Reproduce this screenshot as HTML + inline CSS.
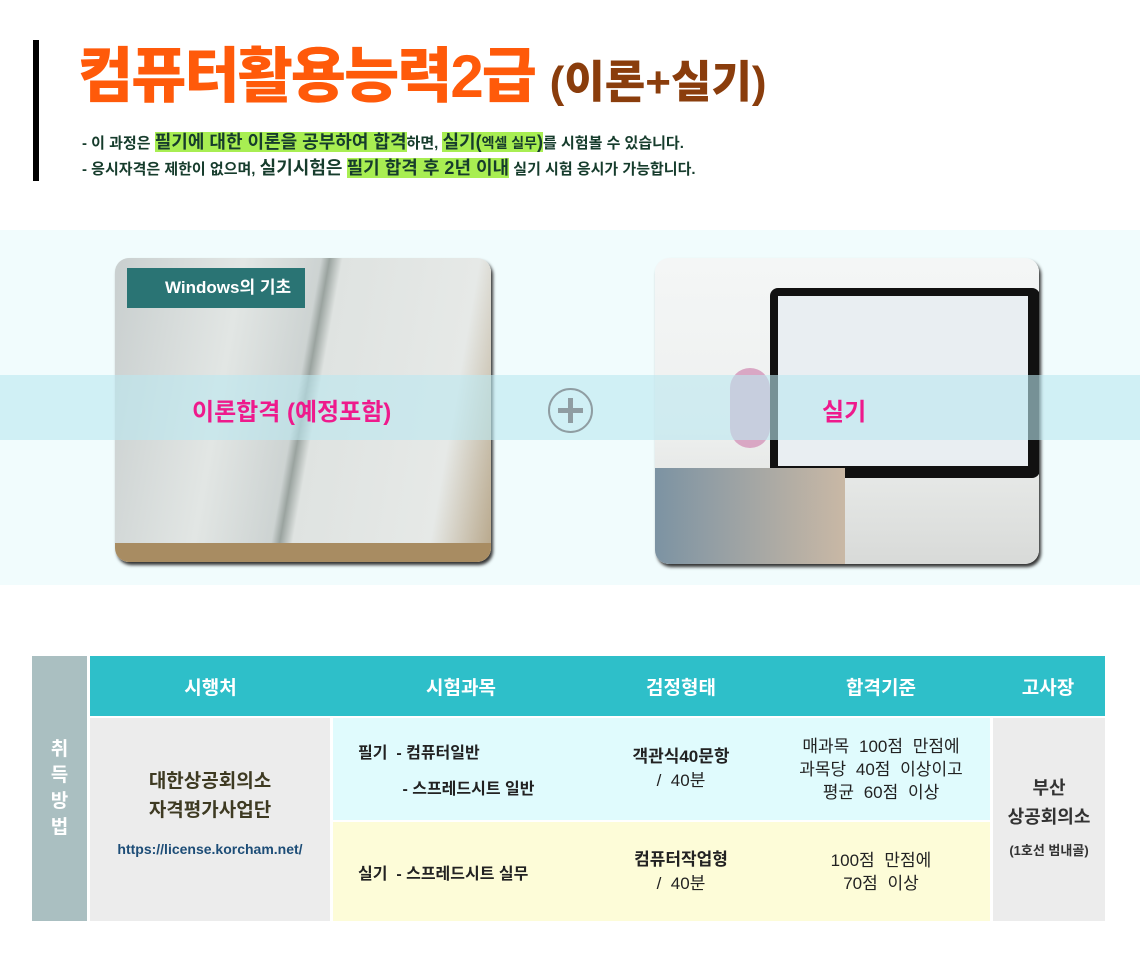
<!DOCTYPE html>
<html><head><meta charset="utf-8"><style>
*{margin:0;padding:0;box-sizing:border-box}
body{width:1140px;height:977px;background:#fff;position:relative;overflow:hidden;font-family:"Liberation Sans","Noto Sans CJK KR",sans-serif}
.a{position:absolute}
.t1{left:78px;top:28px;font-size:60px;font-weight:900;color:#ff5a0a;letter-spacing:-2px;white-space:nowrap}
.t1 span{color:#8a3d0c;font-size:44px;letter-spacing:0}
.ln{font-size:15px;font-weight:700;color:#163c2c;white-space:nowrap}
.hl{background:#a8ee52;font-size:18px}
.c{display:flex;align-items:center;justify-content:center;text-align:center;font-weight:700;position:absolute}
.h{color:#fff;font-size:19px;background:#2ebfc9;top:656px;height:60px}
</style></head><body>
<div class="a" style="left:33px;top:40px;width:6px;height:141px;background:#000"></div>
<div class="a t1">컴퓨터활용능력2급 <span>(이론+실기)</span></div>
<div class="a ln" style="left:82px;top:128px">- 이 과정은 <span class="hl">필기에 대한 이론을 공부하여 합격</span>하면, <span class="hl">실기(<span style="font-size:14px">엑셀 실무</span>)</span>를 시험볼 수 있습니다.</div>
<div class="a ln" style="left:82px;top:154px">- 응시자격은 제한이 없으며, <span style="font-size:18px">실기시험은</span> <span class="hl">필기 합격 후 2년 이내</span> 실기 시험 응시가 가능합니다.</div>

<div class="a" style="left:0;top:230px;width:1140px;height:355px;background:#f1fcfd"></div>
<div class="a" style="left:115px;top:258px;width:376px;height:304px;border-radius:14px;background:linear-gradient(100deg,#c9cfcf 0%,#e2e6e4 30%,#cdd3d2 48%,#9aa39f 50%,#dfe3e1 53%,#e6e9e7 85%,#b7a689 100%);box-shadow:2px 3px 3px #333;overflow:hidden">
 <div class="a" style="left:12px;top:10px;width:178px;height:40px;background:#2a7474"></div>
 <div class="a" style="left:50px;top:15px;color:#fff;font-size:17px;font-weight:700">Windows의 기초</div>
 <div class="a" style="left:0;top:285px;width:376px;height:20px;background:#a88c62"></div>
</div>
<div class="a" style="left:655px;top:258px;width:384px;height:306px;border-radius:14px;background:linear-gradient(180deg,#f4f6f6 0%,#eef0ef 55%,#d8dad8 100%);box-shadow:2px 3px 3px #333;overflow:hidden">
 <div class="a" style="left:115px;top:30px;width:270px;height:190px;background:#111;border-radius:8px"></div>
 <div class="a" style="left:123px;top:38px;width:250px;height:170px;background:#e9eef2"></div>
 <div class="a" style="left:0;top:210px;width:190px;height:96px;background:linear-gradient(90deg,#7c93a3,#c9b8a5)"></div>
 <div class="a" style="left:75px;top:110px;width:40px;height:80px;background:#d9a7c4;border-radius:20px"></div>
</div>
<div class="a" style="left:0;top:375px;width:1140px;height:65px;background:rgba(186,232,240,.6)"></div>
<div class="a" style="left:192px;top:392px;font-size:24px;font-weight:700;color:#ee1a8c">이론합격 (예정포함)</div>
<div class="a" style="left:822px;top:392px;font-size:24px;font-weight:700;color:#ee1a8c">실기</div>
<div class="a" style="left:548px;top:388px;width:45px;height:45px;border:2px solid #8f9da2;border-radius:50%"></div>
<div class="a" style="left:558px;top:408px;width:25px;height:5px;background:#8f9da2"></div>
<div class="a" style="left:568px;top:398px;width:5px;height:25px;background:#8f9da2"></div>

<div class="c" style="left:32px;top:656px;width:55px;height:265px;background:#aabfc1;color:#fff;font-size:19px;line-height:26px"><div>취<br>득<br>방<br>법</div></div>
<div class="c h" style="left:90px;width:241px">시행처</div>
<div class="c h" style="left:331px;width:260px">시험과목</div>
<div class="c h" style="left:591px;width:180px">검정형태</div>
<div class="c h" style="left:771px;width:220px">합격기준</div>
<div class="c h" style="left:991px;width:114px">고사장</div>
<div class="c" style="left:90px;top:718px;width:240px;height:203px;background:#ececec;flex-direction:column;color:#3e3a22;font-size:19px;line-height:29px"><div style="margin-top:-8px">대한상공회의소<br>자격평가사업단</div><div style="font-size:14px;color:#1d4d77;margin-top:10px">https://license.korcham.net/</div></div>
<div class="a" style="left:333px;top:718px;width:657px;height:102px;background:#e0fbfd"></div>
<div class="a" style="left:333px;top:822px;width:657px;height:99px;background:#fdfcd8"></div>
<div class="a" style="left:358px;top:736px;font-size:16px;font-weight:700;color:#222;line-height:36px;white-space:pre">필기  - 컴퓨터일반
          - 스프레드시트 일반</div>
<div class="a" style="left:358px;top:860px;font-size:16px;font-weight:700;color:#222">실기 &nbsp;- 스프레드시트 실무</div>
<div class="c" style="left:591px;top:718px;width:180px;height:102px;font-size:17px;color:#222;line-height:24px"><div>객관식40문항<br><span style="font-weight:400">/ &nbsp;40분</span></div></div>
<div class="c" style="left:591px;top:822px;width:180px;height:99px;font-size:17px;color:#222;line-height:24px"><div>컴퓨터작업형<br><span style="font-weight:400">/ &nbsp;40분</span></div></div>
<div class="c" style="left:771px;top:718px;width:220px;height:102px;font-size:17px;font-weight:400;color:#222;line-height:23px;word-spacing:5px"><div>매과목 100점 만점에<br>과목당 40점 이상이고<br>평균 60점 이상</div></div>
<div class="c" style="left:771px;top:822px;width:220px;height:99px;font-size:17px;font-weight:400;color:#222;line-height:23px;word-spacing:5px"><div>100점 만점에<br>70점 이상</div></div>
<div class="c" style="left:993px;top:718px;width:112px;height:203px;background:#ececec;color:#333;font-size:18px;line-height:29px;flex-direction:column"><div>부산<br>상공회의소</div><div style="font-size:13px;margin-top:4px">(1호선 범내골)</div></div>
</body></html>
